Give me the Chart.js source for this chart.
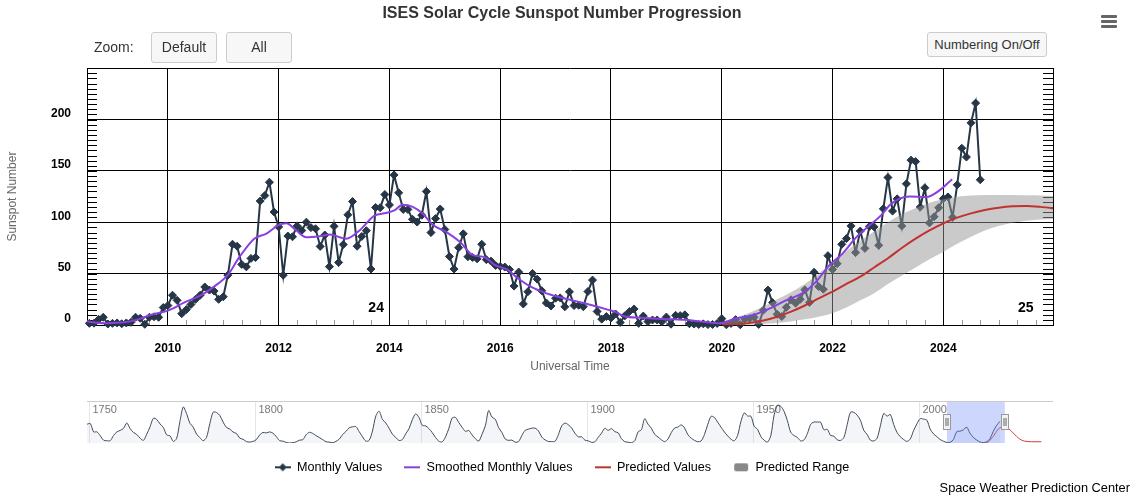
<!DOCTYPE html>
<html>
<head>
<meta charset="utf-8">
<title>ISES Solar Cycle Sunspot Number Progression</title>
<script src="https://cdn.jsdelivr.net/npm/chart.js@4.4.1/dist/chart.umd.min.js"></script>
<style>
  body { margin: 0; background: #fff; font-family: "Liberation Sans", Arial, Helvetica, sans-serif; }
  #wrap { position: relative; width: 1144px; height: 497px; overflow: hidden; }
  #mainChart { position: absolute; left: 0; top: 0; }
  #navChart { position: absolute; left: 87px; top: 401px; }
  .lbl { position: absolute; color: #333; font-size: 14px; }
  .btn { position: absolute; box-sizing: border-box; background: #f7f7f7; border: 1px solid #ccc;
         border-radius: 3px; color: #333; text-align: center; font-size: 14px; }
  .bar { position: absolute; left: 1101px; width: 16px; height: 3px; background: #666; border-radius: 1px; }
  #credit { position: absolute; right: 14px; top: 481px; font-size: 12.8px; color: #000; line-height: 14px; }
</style>
</head>
<body>
<div id="wrap">
  <canvas id="mainChart" width="1144" height="497"></canvas>
  <canvas id="navChart" width="966" height="42"></canvas>
  <div class="lbl" style="left:94px; top:38px; line-height:18px;">Zoom:</div>
  <div class="btn" style="left:151px; top:32px; width:66px; height:31px; line-height:29px;">Default</div>
  <div class="btn" style="left:226px; top:32px; width:66px; height:31px; line-height:29px;">All</div>
  <div class="btn" style="left:927px; top:32px; width:120px; height:25px; line-height:23px; font-size:13px;">Numbering On/Off</div>
  <div class="bar" style="top:15px;"></div>
  <div class="bar" style="top:20px;"></div>
  <div class="bar" style="top:25px;"></div>
  <div id="credit">Space Weather Prediction Center</div>
</div>
<script>
// monthly sunspot numbers, first value = Aug 2008
const monthlyStartYear = 2008;
const monthlyStartMonth = 8;
const monthlyValues = [
  1.6, 1.8, 5.5, 7.5, 1.0,
  1.6, 2.0, 1.2, 2.0, 2.6, 7.5, 6.5, 0.7, 7.5, 8.0, 7.5, 17.0,
  19.0, 29.0, 24.0, 11.0, 15.0, 20.0, 25.0, 29.0, 37.0, 34.0, 33.0, 25.0,
  27.5, 48.5, 78.6, 76.7, 59.0, 56.6, 64.8, 65.7, 120.7, 126.0, 139.0, 110.0,
  95.5, 48.5, 86.6, 85.9, 96.5, 92.0, 100.1, 94.8, 93.7, 76.5, 87.6, 56.8,
  96.1, 60.9, 78.3, 107.3, 120.2, 76.7, 86.2, 91.8, 54.5, 114.4, 114.2, 127.0,
  116.9, 146.1, 128.7, 112.5, 112.5, 102.9, 100.2, 106.9, 130.0, 90.0, 103.6, 112.9,
  93.0, 66.7, 54.5, 75.3, 88.8, 66.5, 65.8, 64.4, 78.6, 63.6, 62.2, 58.0,
  57.0, 56.4, 54.1, 37.9, 51.5, 20.5, 32.4, 50.2, 44.6, 33.4, 21.4, 18.5,
  26.1, 26.4, 17.7, 32.3, 18.9, 19.2, 17.8, 32.6, 43.7, 13.2, 5.7, 8.2,
  6.8, 10.7, 2.5, 8.9, 13.1, 15.6, 1.6, 8.7, 3.3, 4.9, 4.9, 3.1,
  7.7, 0.8, 9.4, 9.1, 9.9, 1.2, 0.9, 0.5, 1.1, 0.4, 0.5, 1.5,
  6.2, 0.2, 1.5, 5.2, 0.2, 5.8, 6.1, 7.5, 0.6, 14.4, 34.0, 21.8,
  10.4, 8.2, 17.2, 24.5, 21.2, 25.0, 34.3, 22.0, 51.3, 37.4, 34.8, 67.5,
  54.0, 59.7, 78.5, 84.1, 96.5, 70.5, 91.4, 74.6, 96.0, 95.5, 77.6, 113.1,
  143.6, 110.9, 122.8, 96.4, 137.4, 160.5, 159.1, 114.8, 133.6, 99.4, 105.4, 114.2,
  123.0, 124.7, 104.9, 136.5, 172.1, 163.5, 196.8, 216.0, 141.4
];

// smoothed monthly values
const smoothYears = [
  2008.45, 2008.86, 2009.22, 2009.46, 2009.70, 2010.00, 2010.30, 2010.60, 2010.90, 2011.08,
  2011.29, 2011.56, 2011.78, 2011.99, 2012.14, 2012.32, 2012.50, 2012.74, 2012.92, 2013.22,
  2013.46, 2013.73, 2013.94, 2014.09, 2014.24, 2014.42, 2014.60, 2014.78, 2015.03, 2015.27,
  2015.51, 2015.72, 2015.90, 2016.14, 2016.32, 2016.56, 2016.80, 2017.04, 2017.34, 2017.64,
  2017.94, 2018.09, 2018.24, 2018.55, 2018.84, 2019.15, 2019.36, 2019.66, 2019.96, 2020.26,
  2020.56, 2020.86, 2021.16, 2021.46, 2021.70, 2021.94, 2022.18, 2022.43, 2022.67, 2022.88,
  2023.03, 2023.21, 2023.39, 2023.69, 2023.93, 2024.16
];
const smoothValues = [
  4.2, 1.8, 2.6, 5.5, 10.0, 14.0, 22.0, 29.0, 40.0, 48.5,
  66.0, 84.0, 89.0, 97.0, 99.0, 92.0, 85.5, 86.5, 88.0, 84.0,
  92.0, 106.5, 109.0, 111.5, 117.0, 115.0, 108.5, 97.5, 90.5, 81.0,
  68.0, 66.0, 58.5, 53.5, 45.5, 37.0, 31.5, 27.5, 23.5, 19.5,
  15.0, 12.5, 8.5, 7.0, 6.0, 5.5, 5.0, 3.2, 1.8, 6.5,
  9.7, 16.0, 24.0, 31.0, 42.0, 58.0, 69.5, 85.5, 97.0, 107.0,
  116.5, 123.0, 125.0, 124.5, 131.0, 142.0
];

// predicted cycle 25 and its range
const predYears = [
  2020.00, 2020.25, 2020.50, 2020.75, 2021.00, 2021.25, 2021.50, 2021.75, 2022.00, 2022.25,
  2022.50, 2022.75, 2023.00, 2023.25, 2023.50, 2023.75, 2024.00, 2024.25, 2024.50, 2024.75,
  2025.00, 2025.25, 2025.50, 2025.75, 2026.00, 2026.50, 2027.00, 2027.50, 2028.00, 2028.50,
  2029.00, 2029.50, 2030.00, 2030.50, 2031.00, 2032.00, 2033.00, 2034.00, 2035.00, 2036.00, 2037.00
];
const predValues = [
  0.5, 0.8, 2.0, 4.3, 8.0, 13.0, 19.0, 26.0, 32.5, 40.0,
  47.0, 56.0, 65.0, 75.0, 84.0, 92.0, 99.0, 104.5, 108.7, 112.0,
  114.2, 115.5, 115.8, 115.0, 113.5, 110.0, 104.0, 95.0, 84.0, 72.0,
  60.0, 48.0, 37.0, 28.0, 21.0, 13.0, 10.0, 9.0, 9.0, 9.0, 9.0
];
const rangeHigh = [
  2.0, 7.0, 12.0, 18.0, 25.0, 32.0, 40.0, 50.0, 61.0, 72.0,
  82.0, 91.0, 100.0, 108.0, 114.0, 119.0, 122.5, 124.8, 126.0, 126.5,
  126.6, 126.5, 126.2, 126.0, 125.5
];
const rangeLow = [
  0.0, 0.0, 0.3, 1.0, 2.0, 3.5, 5.5, 8.0, 11.5, 17.0,
  24.0, 31.0, 40.0, 48.0, 56.0, 64.0, 71.0, 79.0, 86.0, 92.0,
  96.5, 99.5, 101.5, 102.8, 103.3
];

// yearly means for the navigator, first value = 1749
const navStartYear = 1749;
const navValues = [
  134.0, 139.0, 79.5, 79.7, 51.2, 20.3, 16.0, 17.0, 54.0, 79.3,
  90.0, 104.8, 143.2, 102.0, 75.2, 60.7, 34.8, 19.0, 63.0, 116.3,
  176.8, 168.0, 136.0, 110.8, 58.0, 51.0, 11.7, 33.0, 154.2, 257.3,
  209.8, 141.3, 113.5, 64.2, 38.0, 17.0, 40.2, 138.2, 220.0, 218.2,
  196.8, 149.8, 111.0, 100.0, 78.2, 68.3, 35.5, 26.7, 10.7, 6.8,
  11.3, 24.2, 56.7, 75.0, 71.8, 79.2, 70.3, 46.8, 16.8, 13.5,
  4.2, 0.0, 2.3, 8.3, 20.3, 23.2, 59.0, 76.3, 68.3, 52.9,
  38.5, 24.2, 9.2, 6.3, 2.2, 11.4, 28.2, 59.9, 83.0, 108.5,
  115.2, 117.4, 80.8, 44.3, 13.4, 19.5, 85.8, 192.7, 227.3, 168.7,
  143.0, 105.5, 63.3, 40.3, 18.1, 25.1, 65.8, 102.7, 166.3, 208.3,
  182.5, 126.3, 122.0, 102.7, 74.1, 39.0, 12.7, 8.2, 43.4, 104.4,
  178.3, 182.2, 146.6, 112.1, 83.5, 89.2, 57.8, 30.7, 13.9, 62.8,
  123.6, 232.0, 185.3, 169.2, 110.1, 74.5, 28.3, 18.9, 20.7, 5.7,
  10.0, 53.7, 90.5, 99.0, 106.1, 105.8, 86.3, 42.4, 21.8, 11.2,
  10.4, 11.8, 59.5, 121.7, 142.0, 130.0, 106.6, 69.4, 43.8, 44.4,
  20.2, 15.7, 4.6, 8.5, 40.8, 70.1, 105.5, 90.1, 102.8, 80.9,
  73.2, 30.9, 9.5, 6.0, 2.4, 16.1, 79.0, 95.0, 173.6, 134.6,
  105.7, 62.7, 43.5, 23.7, 9.7, 27.9, 73.8, 106.6, 114.0, 129.3,
  108.0, 59.4, 35.1, 18.6, 9.2, 14.6, 60.2, 132.8, 190.6, 182.6,
  148.0, 113.0, 79.2, 50.8, 27.1, 16.1, 55.3, 154.3, 214.7, 193.0,
  190.7, 118.9, 98.3, 45.0, 20.1, 6.6, 54.2, 200.7, 269.3, 261.7,
  225.1, 159.0, 76.4, 53.4, 39.9, 15.0, 22.0, 66.8, 132.9, 150.0,
  149.4, 148.0, 94.4, 97.6, 54.1, 49.2, 22.5, 18.4, 39.3, 131.0,
  220.1, 218.9, 198.9, 162.4, 91.0, 60.5, 20.6, 14.8, 33.9, 123.0,
  211.1, 191.8, 203.3, 133.0, 76.1, 44.9, 25.1, 11.6, 28.9, 88.3,
  136.3, 173.9, 170.4, 163.6, 99.3, 65.3, 45.8, 24.7, 12.6, 4.2,
  4.8, 24.9, 80.8, 84.5, 94.0, 113.3, 69.8, 39.8, 21.7, 7.0,
  3.6, 8.8, 29.6, 83.2, 125.5, 154.6
];

const xTickYears = [2010, 2012, 2014, 2016, 2018, 2020, 2022, 2024];
const yTickValues = [0, 50, 100, 150, 200, 250];
const navTickYears = [1750, 1800, 1850, 1900, 1950, 2000];
const cycleNumbers = ['24', '25'];
const cycleLabelYears = [2013.76, 2025.49];

const viewStart = 2008.54;
const viewEnd = 2025.98;

const COLOR_MONTHLY = '#263646';
const COLOR_SMOOTH = '#8a3fe0';
const COLOR_PRED = '#c43131';
const FONT = '"Liberation Sans", Arial, Helvetica, sans-serif';

Chart.defaults.font.family = FONT;

const monthlyPoints = monthlyValues.map((v, i) => ({ x: monthlyStartYear + (monthlyStartMonth - 1 + i) / 12, y: v }));
const smoothPoints = smoothValues.map((v, i) => ({ x: smoothYears[i], y: v }));
const predPoints = predValues.map((v, i) => ({ x: predYears[i], y: v }));
const highPoints = rangeHigh.map((v, i) => ({ x: predYears[i], y: v }));
const lowPoints = rangeLow.map((v, i) => ({ x: predYears[i], y: v }));

// little canvases used as legend symbols
function makeSymbol(kind) {
    const c = document.createElement('canvas');
    c.width = 16;
    c.height = 10;
    const g = c.getContext('2d');
    if (kind === 'range') {
        g.fillStyle = '#888';
        g.beginPath();
        g.roundRect(1, 1, 14, 8, 2);
        g.fill();
        return c;
    }
    g.strokeStyle = kind === 'monthly' ? COLOR_MONTHLY : (kind === 'smooth' ? COLOR_SMOOTH : COLOR_PRED);
    g.lineWidth = 2;
    g.beginPath();
    g.moveTo(0, 5);
    g.lineTo(16, 5);
    g.stroke();
    if (kind === 'monthly') {
        g.fillStyle = COLOR_MONTHLY;
        g.beginPath();
        g.moveTo(8, 1); g.lineTo(12, 5); g.lineTo(8, 9); g.lineTo(4, 5);
        g.closePath();
        g.fill();
    }
    return c;
}

// minor ticks, cycle numbers
const decorations = {
    id: 'decorations',
    beforeDatasetsDraw(chart) {
        const { ctx, chartArea: a, scales: { x, y } } = chart;
        ctx.save();
        ctx.lineWidth = 1;
        ctx.strokeStyle = '#000';
        ctx.beginPath();
        for (let v = 0; v <= 250; v += 5) {
            const py = Math.round(y.getPixelForValue(v)) + 0.5;
            ctx.moveTo(a.left, py); ctx.lineTo(a.left + 10, py);
            ctx.moveTo(a.right - 10, py); ctx.lineTo(a.right, py);
        }
        ctx.stroke();
        ctx.strokeStyle = '#999';
        ctx.beginPath();
        for (let k = Math.ceil(x.min * 3); k <= x.max * 3; k++) {
            if (k % 6 === 0) continue;
            const px = Math.round(x.getPixelForValue(k / 3)) + 0.5;
            ctx.moveTo(px, a.bottom); ctx.lineTo(px, a.bottom - 5);
        }
        ctx.stroke();
        ctx.restore();
    },
    afterDraw(chart) {
        const { ctx, scales: { x, y } } = chart;
        ctx.save();
        ctx.font = 'bold 14px ' + FONT;
        ctx.fillStyle = '#000';
        ctx.textAlign = 'center';
        ctx.textBaseline = 'middle';
        cycleNumbers.forEach((t, i) => {
            ctx.fillText(t, x.getPixelForValue(cycleLabelYears[i]), y.getPixelForValue(16));
        });
        ctx.restore();
    }
};

new Chart(document.getElementById('mainChart'), {
    type: 'line',
    data: {
        datasets: [
            {
                label: 'Monthly Values',
                data: monthlyPoints,
                borderColor: COLOR_MONTHLY,
                backgroundColor: COLOR_MONTHLY,
                borderWidth: 2,
                pointStyle: 'rectRot',
                pointRadius: 4,
                pointBorderWidth: 1,
                clip: 6,
                order: 4
            },
            {
                label: 'Smoothed Monthly Values',
                data: smoothPoints,
                borderColor: COLOR_SMOOTH,
                borderWidth: 2,
                pointRadius: 0,
                cubicInterpolationMode: 'monotone',
                order: 1
            },
            {
                label: 'Predicted Values',
                data: predPoints,
                borderColor: COLOR_PRED,
                borderWidth: 2,
                pointRadius: 0,
                cubicInterpolationMode: 'monotone',
                order: 2
            },
            {
                label: 'Predicted Range',
                data: highPoints,
                borderColor: 'rgba(0,0,0,0)',
                borderWidth: 0,
                backgroundColor: 'rgba(150,150,150,0.5)',
                pointRadius: 0,
                fill: '+1',
                cubicInterpolationMode: 'monotone',
                order: 3
            },
            {
                label: 'Predicted Range low',
                data: lowPoints,
                borderColor: 'rgba(0,0,0,0)',
                borderWidth: 0,
                pointRadius: 0,
                fill: false,
                cubicInterpolationMode: 'monotone',
                order: 3
            }
        ]
    },
    options: {
        responsive: false,
        animation: false,
        events: [],
        layout: { padding: { left: 0, right: 20, top: 0, bottom: 14 } },
        plugins: {
            title: {
                display: true,
                text: 'ISES Solar Cycle Sunspot Number Progression',
                color: '#333',
                font: { size: 16, weight: 'bold' },
                padding: { top: 4, bottom: 45 }
            },
            legend: {
                position: 'bottom',
                maxHeight: 44,
                labels: {
                    usePointStyle: true,
                    pointStyleWidth: 16,
                    padding: 22,
                    color: '#333',
                    font: { size: 12.6 },
                    generateLabels: () => [
                        { text: 'Monthly Values', pointStyle: makeSymbol('monthly'), datasetIndex: 0 },
                        { text: 'Smoothed Monthly Values', pointStyle: makeSymbol('smooth'), datasetIndex: 1 },
                        { text: 'Predicted Values', pointStyle: makeSymbol('pred'), datasetIndex: 2 },
                        { text: 'Predicted Range', pointStyle: makeSymbol('range'), datasetIndex: 3 }
                    ].map(item => Object.assign(item, {
                        fillStyle: 'rgba(0,0,0,0)', strokeStyle: 'rgba(0,0,0,0)', lineWidth: 0, hidden: false
                    }))
                }
            },
            tooltip: { enabled: false }
        },
        scales: {
            x: {
                type: 'linear',
                min: viewStart,
                max: viewEnd,
                afterBuildTicks: s => { s.ticks = xTickYears.map(v => ({ value: v })); },
                afterFit: s => { s.height = 114; },
                ticks: {
                    callback: v => String(v),
                    color: '#000',
                    font: { size: 12, weight: 'bold' },
                    padding: 16,
                    maxRotation: 0,
                    autoSkip: false
                },
                grid: { color: '#000', drawTicks: false },
                border: { color: '#000' },
                title: {
                    display: true,
                    text: 'Universal Time',
                    color: '#666',
                    font: { size: 12 },
                    padding: { top: 0, bottom: 65 }
                }
            },
            y: {
                min: 0,
                max: 250,
                afterBuildTicks: s => { s.ticks = yTickValues.map(v => ({ value: v })); },
                afterFit: s => { s.width = 87; },
                ticks: {
                    callback: v => (v <= 200 ? String(v) : ''),
                    color: '#000',
                    font: { size: 12, weight: 'bold' },
                    padding: 16,
                    labelOffset: -6
                },
                grid: { color: '#000', drawTicks: false },
                border: { color: '#000' },
                title: {
                    display: true,
                    text: 'Sunspot Number',
                    color: '#666',
                    font: { size: 12 },
                    padding: { top: 5, bottom: 0 }
                }
            },
            y2: {
                position: 'right',
                min: 0,
                max: 250,
                afterFit: s => { s.width = 71; },
                ticks: { display: false },
                grid: { drawOnChartArea: false, drawTicks: false },
                border: { color: '#000' }
            }
        }
    },
    plugins: [decorations]
});

// navigator: grid, year labels, selected window and handles
const navDecor = {
    id: 'navDecor',
    beforeDatasetsDraw(chart) {
        const { ctx, chartArea: a, scales: { x } } = chart;
        ctx.save();
        ctx.strokeStyle = '#e6e6e6';
        ctx.lineWidth = 1;
        ctx.font = '11px ' + FONT;
        ctx.fillStyle = '#777';
        ctx.textBaseline = 'middle';
        navTickYears.forEach(yr => {
            const px = Math.round(x.getPixelForValue(yr)) + 0.5;
            ctx.beginPath();
            ctx.moveTo(px, a.top); ctx.lineTo(px, a.bottom);
            ctx.stroke();
            ctx.fillText(String(yr), px + 3, a.top + 9);
        });
        ctx.restore();
    },
    afterDatasetsDraw(chart) {
        const { ctx, chartArea: a, scales: { x } } = chart;
        const x0 = x.getPixelForValue(viewStart);
        const x1 = x.getPixelForValue(viewEnd);
        ctx.save();
        ctx.fillStyle = 'rgba(102,133,250,0.33)';
        ctx.fillRect(x0, a.top, x1 - x0, a.bottom - a.top);
        ctx.strokeStyle = '#ccc';
        ctx.beginPath();
        ctx.moveTo(a.left, a.top + 0.5); ctx.lineTo(a.right, a.top + 0.5);
        ctx.stroke();
        const cy = (a.top + a.bottom) / 2;
        [x0, x1].forEach(hx => {
            const lx = Math.round(hx - 4) + 0.5;
            ctx.fillStyle = '#f2f2f2';
            ctx.strokeStyle = '#999';
            ctx.fillRect(lx, cy - 7.5, 7, 15);
            ctx.strokeRect(lx, cy - 7.5, 7, 15);
            ctx.strokeStyle = '#666';
            ctx.beginPath();
            ctx.moveTo(lx + 2.5, cy - 4); ctx.lineTo(lx + 2.5, cy + 4);
            ctx.moveTo(lx + 4.5, cy - 4); ctx.lineTo(lx + 4.5, cy + 4);
            ctx.stroke();
        });
        ctx.restore();
    }
};

new Chart(document.getElementById('navChart'), {
    type: 'line',
    data: {
        datasets: [
            {
                data: navValues.map((v, i) => ({ x: navStartYear + i + 0.5, y: v })),
                borderColor: '#3d4b5a',
                backgroundColor: 'rgba(110,130,160,0.08)',
                borderWidth: 1,
                pointRadius: 0,
                fill: 'origin',
                tension: 0.3
            },
            {
                data: predPoints,
                borderColor: '#d43a3a',
                borderWidth: 1,
                pointRadius: 0,
                fill: false,
                cubicInterpolationMode: 'monotone'
            }
        ]
    },
    options: {
        responsive: false,
        animation: false,
        events: [],
        layout: { padding: 0 },
        plugins: { legend: { display: false }, tooltip: { enabled: false } },
        scales: {
            x: { type: 'linear', min: 1749.5, max: 2040.5, display: false },
            y: { min: 0, max: 300, display: false }
        }
    },
    plugins: [navDecor]
});
</script>
</body>
</html>
